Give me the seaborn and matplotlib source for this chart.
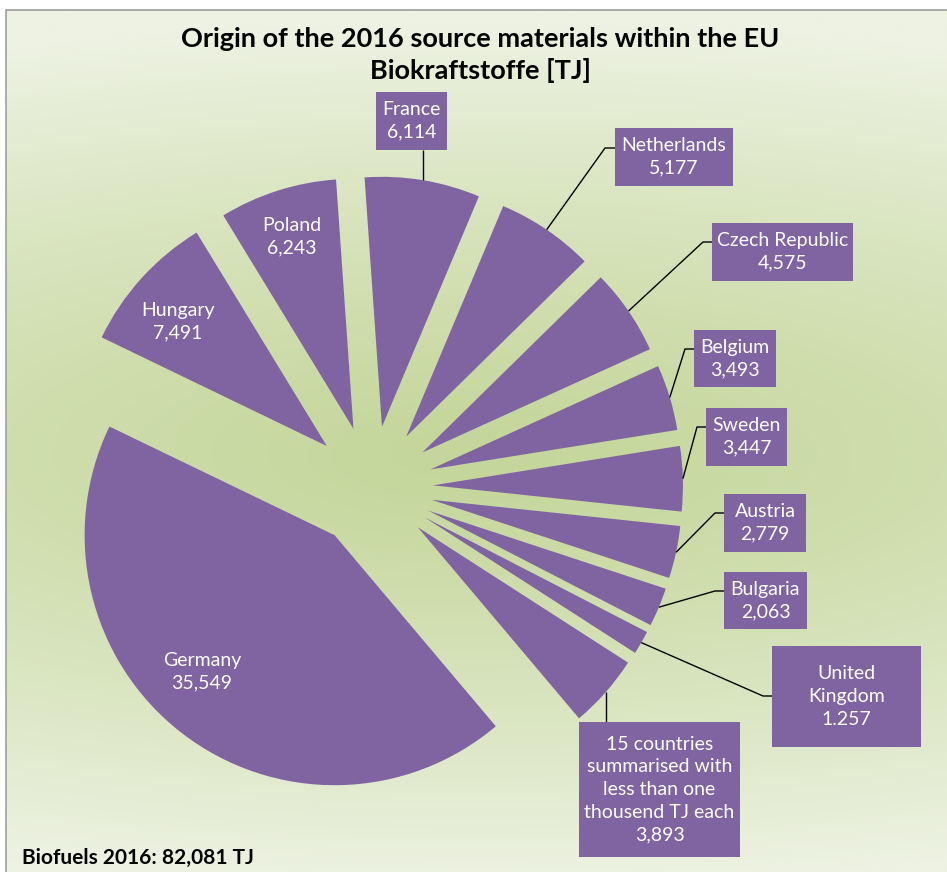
import numpy as np
import matplotlib
matplotlib.use("Agg")
import matplotlib.pyplot as plt
from matplotlib.patches import Rectangle
import seaborn as sns

# data (clockwise from the top)
countries = ["France", "Netherlands", "Czech Republic", "Belgium", "Sweden", "Austria",
             "Bulgaria", "United\nKingdom",
             "15 countries\nsummarised with\nless than one\nthousend TJ each",
             "Germany", "Hungary", "Poland"]
values = [6114, 5177, 4575, 3493, 3447, 2779, 2063, 1257, 3893, 35549, 7491, 6243]
value_labels = ["6,114", "5,177", "4,575", "3,493", "3,447", "2,779", "2,063", "1.257",
                "3,893", "35,549", "7,491", "6,243"]
title = "Origin of the 2016 source materials within the EU\nBiokraftstoffe [TJ]"
footer = "Biofuels 2016: 82,081 TJ"

sns.set_theme(style="white")
plt.rcParams['font.family'] = ['Lato', 'DejaVu Sans']

W, H = 947, 872
purple = "#8064a2"

# label layout in pixels: box (x0, y0, x1, y1) and leader bends; None = label inside the slice
layout = [
    ((376, 92, 447, 150), []),
    ((615, 128, 733, 186), [(605, 148), (615, 148)]),
    ((712, 223, 853, 281), [(703, 242), (712, 242)]),
    ((694, 330, 776, 387), [(685, 349), (694, 349)]),
    ((706, 408, 787, 466), [(697, 427), (706, 427)]),
    ((724, 494, 806, 552), [(715, 513), (724, 513)]),
    ((724, 572, 807, 629), [(715, 591), (724, 591)]),
    ((772, 646, 921, 747), [(763, 696), (772, 696)]),
    ((579, 722, 740, 857), []),
    ((202, 672), None),
    ((178, 322), None),
    ((292, 237), None),
]


def py(y):
    return H - y


fig = plt.figure(figsize=(W / 100, H / 100), dpi=100)
fig.patch.set_facecolor("white")
ax = fig.add_axes([0, 0, 1, 1])

# background gradient of the chart area
gx, gy = np.meshgrid(np.linspace(6, W, 300), np.linspace(10, H, 300))
d = np.sqrt(((gy - 455) / 430) ** 2 + (0.35 * (gx - 475) / 470) ** 2)
d = np.clip(d, 0, 1) ** 1.2
dark = np.array([196, 214, 154]) / 255
light = np.array([237, 242, 226]) / 255
img = dark[None, None, :] * (1 - d[..., None]) + light[None, None, :] * d[..., None]
ax.imshow(img, extent=(6, W, py(H), py(10)), origin="upper", aspect="auto", zorder=0)
ax.add_patch(Rectangle((6, py(H) - 5), W, H - 10 + 5, fill=False, edgecolor="#a0a0a0",
                       lw=1.2, zorder=1))

wedges, _ = ax.pie(values, colors=[purple] * len(values), startangle=94, counterclock=False,
                   radius=250, center=(372, py(487)), explode=[61] * len(values),
                   wedgeprops=dict(linewidth=0, zorder=2), frame=True)

for i, w in enumerate(wedges):
    box, bends = layout[i]
    text = countries[i] + "\n" + value_labels[i]
    if bends is None:
        ax.text(box[0], py(box[1]), text, ha="center", va="center", color="white",
                fontsize=14, linespacing=1.4, zorder=4)
        continue
    x0, y0, x1, y1 = box
    ax.add_patch(Rectangle((x0, py(y1)), x1 - x0, y1 - y0, facecolor=purple,
                           edgecolor="none", zorder=3))
    ax.text((x0 + x1) / 2, py((y0 + y1) / 2), text, ha="center", va="center",
            color="white", fontsize=14, linespacing=1.4, zorder=4)
    # leader line from the middle of the slice's outer arc
    mid = np.deg2rad((w.theta1 + w.theta2) / 2)
    sx = w.center[0] + w.r * np.cos(mid)
    sy = w.center[1] + w.r * np.sin(mid)
    if bends:
        xs = [sx] + [b[0] for b in bends]
        ys = [sy] + [py(b[1]) for b in bends]
    elif sy > py(y0):
        # slice above the box: drop straight down to its top edge
        xs, ys = [sx, sx], [sy, py(y0)]
    else:
        # slice below the box: rise straight up to its bottom edge
        xs, ys = [sx, sx], [sy, py(y1)]
    ax.plot(xs, ys, color="black", lw=1.0, zorder=2.5, solid_capstyle="butt")

ax.text(480, py(55), title, ha="center", va="center", fontsize=19.5, fontweight="bold",
        color="black", linespacing=1.3, zorder=5)
ax.text(22, py(858), footer, ha="left", va="center", fontsize=15, fontweight="bold",
        color="black", zorder=5)

ax.set_xlim(0, W)
ax.set_ylim(0, H)
ax.set_aspect("auto")
ax.axis("off")

fig.savefig("out.png", dpi=100)
